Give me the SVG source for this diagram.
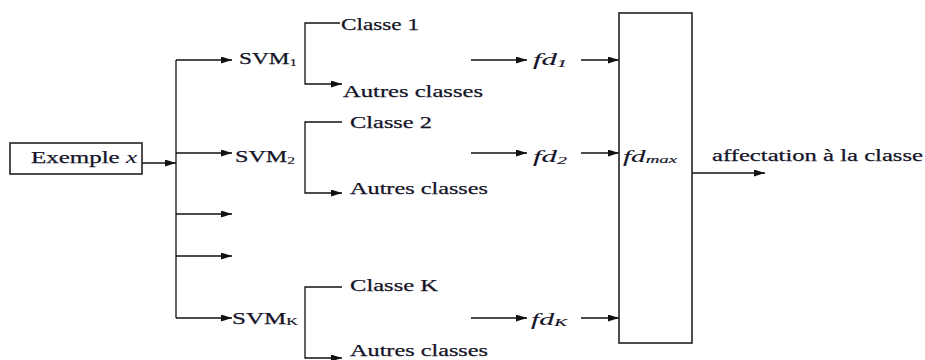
<svg xmlns="http://www.w3.org/2000/svg" width="925" height="360" viewBox="0 0 925 360">
  <defs>
    <marker id="arrow" viewBox="0 0 11 7" refX="11" refY="3.5" markerWidth="11" markerHeight="7" markerUnits="userSpaceOnUse" orient="auto">
      <path d="M0,0 L11,3.5 L0,7 Z" fill="#111"/>
    </marker>
    <style>
      .box { fill: #fff; stroke: #222; stroke-width: 1.6; }
      .wire { fill: none; stroke: #111; stroke-width: 1.3; }
      .arr { marker-end: url(#arrow); }
      .lbl { font-family: "Liberation Serif", "Times New Roman", serif; font-size: 17px; fill: #141428; stroke: #141428; stroke-width: 0.25; }
      .it { font-style: italic; stroke-width: 0.1; }
      .sub { font-size: 11px; stroke-width: 0.15; }
    </style>
  </defs>

  <!-- connectors -->
  <g id="connectors">
    <!-- input to splitter -->
    <path class="wire arr" d="M142,163 H176"/>
    <path class="wire" d="M176,60 V318"/>
    <path class="wire arr" d="M176,60 H232"/>
    <path class="wire arr" d="M176,153 H232"/>
    <path class="wire arr" d="M176,214 H232"/>
    <path class="wire arr" d="M176,256 H232"/>
    <path class="wire arr" d="M176,318 H232"/>

    <!-- SVM output brackets -->
    <path class="wire arr" d="M340,23 H305 V84 H342"/>
    <path class="wire arr" d="M342,122 H305 V193 H342"/>
    <path class="wire arr" d="M342,287 H305 V358 H342"/>

    <!-- decision functions -->
    <path class="wire arr" d="M471,60 H527"/>
    <path class="wire arr" d="M581,60 H619"/>
    <path class="wire arr" d="M471,153 H527"/>
    <path class="wire arr" d="M581,153 H619"/>
    <path class="wire arr" d="M471,318 H527"/>
    <path class="wire arr" d="M581,318 H619"/>

    <!-- final assignment -->
    <path class="wire arr" d="M692,173 H765"/>
  </g>

  <g id="input">
    <rect class="box" x="10" y="143" width="132" height="31"/>
    <text class="lbl" x="31" y="163" textLength="106" lengthAdjust="spacingAndGlyphs">Exemple <tspan class="it">x</tspan></text>
  </g>

  <g id="svm1">
    <text class="lbl" x="239" y="64" textLength="58" lengthAdjust="spacingAndGlyphs">SVM<tspan class="sub" dy="2">1</tspan></text>
  </g>
  <g id="svm2">
    <text class="lbl" x="235" y="162" textLength="60" lengthAdjust="spacingAndGlyphs">SVM<tspan class="sub" dy="2">2</tspan></text>
  </g>
  <g id="svmk">
    <text class="lbl" x="232" y="324" textLength="66" lengthAdjust="spacingAndGlyphs">SVM<tspan class="sub" dy="1">K</tspan></text>
  </g>

  <g id="classe1">
    <text class="lbl" x="341" y="30" textLength="78" lengthAdjust="spacingAndGlyphs">Classe 1</text>
  </g>
  <g id="autres1">
    <text class="lbl" x="343" y="97" textLength="140" lengthAdjust="spacingAndGlyphs">Autres classes</text>
  </g>
  <g id="classe2">
    <text class="lbl" x="350" y="128" textLength="82" lengthAdjust="spacingAndGlyphs">Classe 2</text>
  </g>
  <g id="autres2">
    <text class="lbl" x="350" y="194" textLength="138" lengthAdjust="spacingAndGlyphs">Autres classes</text>
  </g>
  <g id="classek">
    <text class="lbl" x="350" y="291" textLength="88" lengthAdjust="spacingAndGlyphs">Classe K</text>
  </g>
  <g id="autresk">
    <text class="lbl" x="350" y="356" textLength="138" lengthAdjust="spacingAndGlyphs">Autres classes</text>
  </g>

  <g id="fd1">
    <text class="lbl it" x="533" y="65" textLength="34" lengthAdjust="spacingAndGlyphs">fd<tspan class="sub" dy="2">1</tspan></text>
  </g>
  <g id="fd2">
    <text class="lbl it" x="533" y="162" textLength="34" lengthAdjust="spacingAndGlyphs">fd<tspan class="sub" dy="2">2</tspan></text>
  </g>
  <g id="fdk">
    <text class="lbl it" x="531" y="325" textLength="36" lengthAdjust="spacingAndGlyphs">fd<tspan class="sub" dy="1">K</tspan></text>
  </g>

  <g id="fdmax">
    <rect class="box" x="619" y="13" width="73" height="330"/>
    <text class="lbl it" x="623" y="162" textLength="54" lengthAdjust="spacingAndGlyphs">fd<tspan class="sub" dy="1">max</tspan></text>
  </g>

  <g id="affectation">
    <text class="lbl" x="712" y="161" textLength="211" lengthAdjust="spacingAndGlyphs">affectation à la classe</text>
  </g>
</svg>
